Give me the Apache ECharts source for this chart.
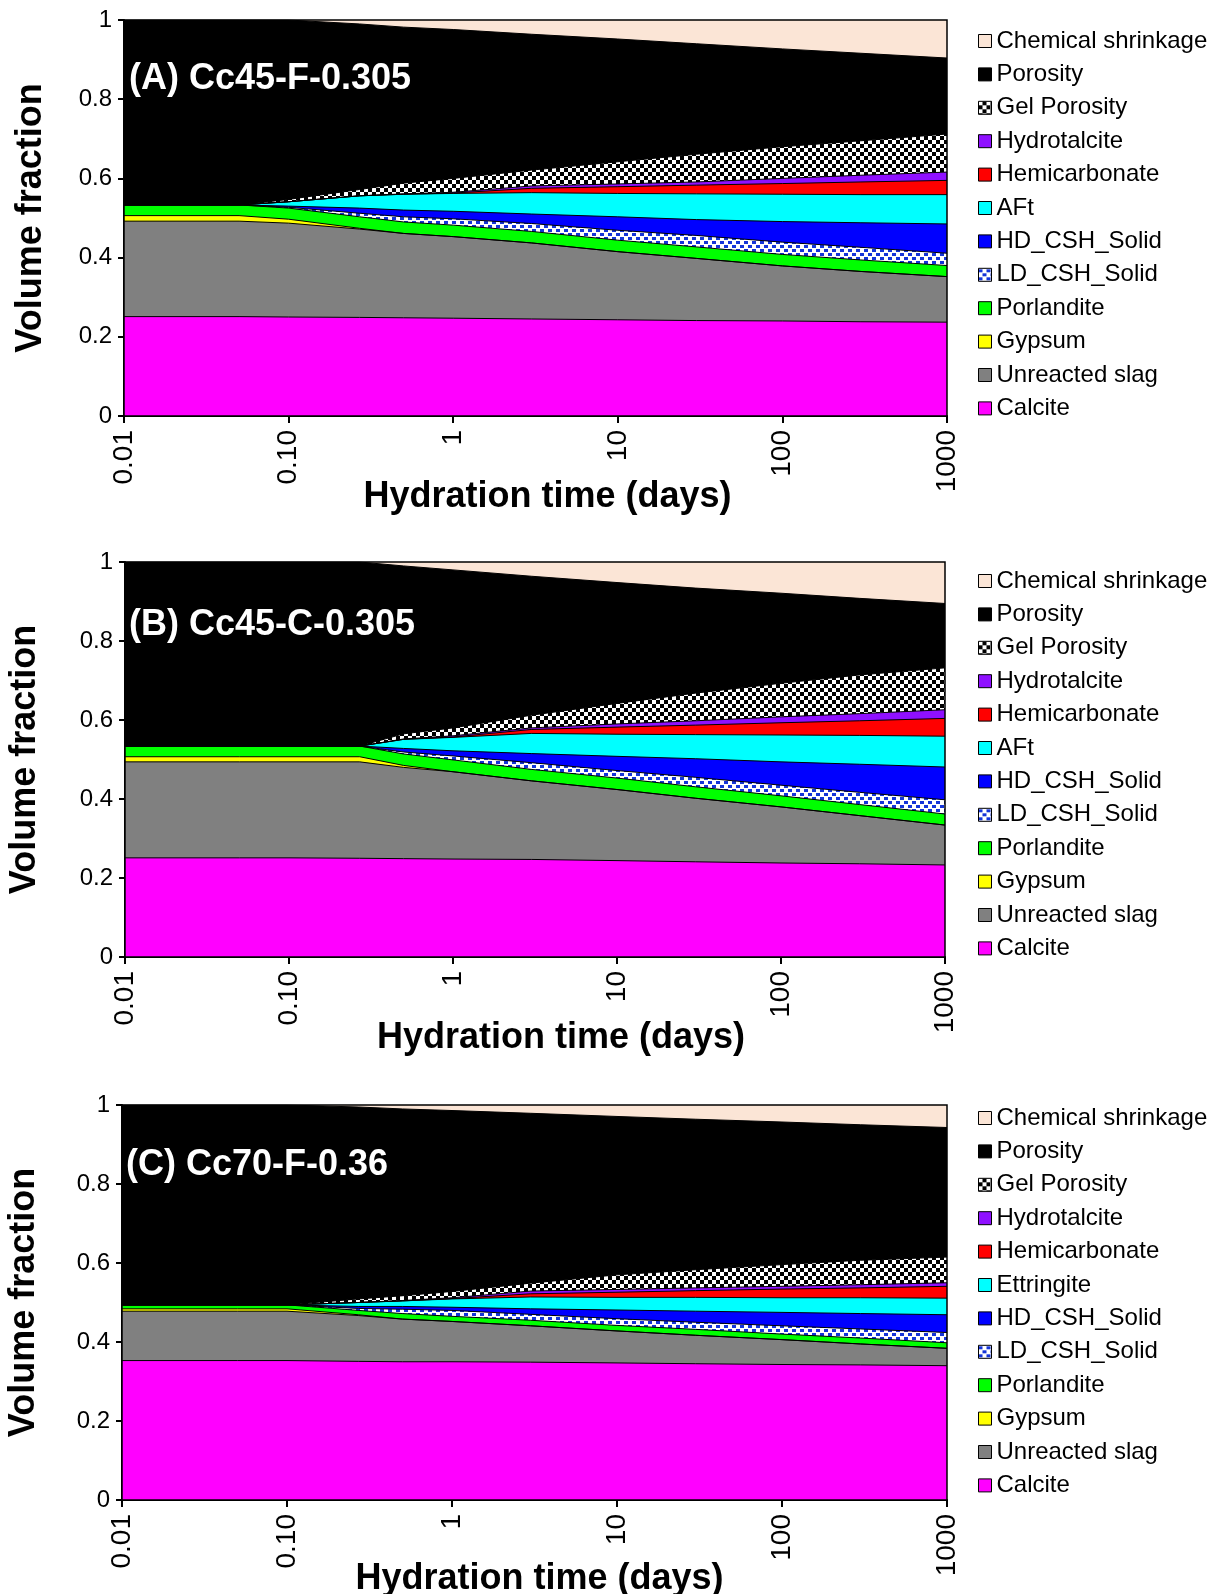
<!DOCTYPE html>
<html>
<head>
<meta charset="utf-8">
<script src="https://cdn.jsdelivr.net/npm/echarts@6/dist/echarts.min.js"></script>
<style>
  html, body { margin: 0; padding: 0; background: #fff; }
  #chart { width: 1219px; height: 1594px; }
</style>
</head>
<body>
<div id="chart"></div>
<script>
// hydration time (days), shared by all three panels
const times = [0.01, 0.05, 0.1, 0.27, 0.5, 1, 3, 10, 30, 100, 300, 1000]
const xTickLabels = ['0.01', '0.10', '1', '10', '100', '1000']
const yTickLabels = ['0', '0.2', '0.4', '0.6', '0.8', '1']

// (A) Cc45-F-0.305  volume fractions, bottom layer first
const calciteA   = [0.251, 0.251, 0.250, 0.249, 0.248, 0.247, 0.245, 0.243, 0.241, 0.240, 0.238, 0.237]
const slagA      = [0.241, 0.241, 0.237, 0.223, 0.213, 0.206, 0.192, 0.172, 0.157, 0.139, 0.127, 0.115]
const gypsumA    = [0.014, 0.014, 0.010, 0.002, 0, 0, 0, 0, 0, 0, 0, 0]
const portlA     = [0.027, 0.027, 0.028, 0.029, 0.029, 0.029, 0.029, 0.029, 0.029, 0.029, 0.029, 0.028]
const ldCshA     = [0, 0, 0.002, 0.009, 0.013, 0.016, 0.020, 0.025, 0.029, 0.031, 0.032, 0.031]
const hdCshA     = [0, 0, 0.003, 0.013, 0.017, 0.019, 0.024, 0.034, 0.040, 0.052, 0.062, 0.074]
const aftA       = [0, 0, 0.011, 0.031, 0.040, 0.045, 0.054, 0.059, 0.065, 0.069, 0.071, 0.074]
const hemiA      = [0, 0, 0, 0, 0, 0.001, 0.011, 0.017, 0.022, 0.027, 0.032, 0.036]
const hydroA     = [0, 0, 0, 0, 0.001, 0.002, 0.006, 0.007, 0.008, 0.013, 0.017, 0.021]
const gelA       = [0, 0, 0.006, 0.016, 0.027, 0.035, 0.040, 0.056, 0.070, 0.080, 0.087, 0.096]
const porosityA  = [0.467, 0.467, 0.453, 0.418, 0.394, 0.376, 0.343, 0.310, 0.279, 0.247, 0.221, 0.192]
const shrinkA    = [0, 0, 0, 0.010, 0.018, 0.024, 0.036, 0.048, 0.060, 0.073, 0.084, 0.096]

// (B) Cc45-C-0.305
const calciteB   = [0.251, 0.251, 0.251, 0.250, 0.249, 0.248, 0.247, 0.244, 0.241, 0.238, 0.236, 0.233]
const slagB      = [0.243, 0.243, 0.243, 0.244, 0.231, 0.221, 0.199, 0.180, 0.161, 0.142, 0.122, 0.101]
const gypsumB    = [0.013, 0.013, 0.013, 0.013, 0.005, 0, 0, 0, 0, 0, 0, 0]
const portlB     = [0.027, 0.027, 0.027, 0.027, 0.029, 0.030, 0.029, 0.029, 0.029, 0.028, 0.028, 0.028]
const ldCshB     = [0, 0, 0, 0, 0.005, 0.010, 0.017, 0.019, 0.024, 0.027, 0.031, 0.036]
const hdCshB     = [0, 0, 0, 0, 0.009, 0.013, 0.023, 0.036, 0.047, 0.059, 0.071, 0.083]
const aftB       = [0, 0, 0, 0, 0.023, 0.034, 0.051, 0.056, 0.061, 0.068, 0.073, 0.078]
const hemiB      = [0, 0, 0, 0, 0, 0.001, 0.010, 0.018, 0.024, 0.031, 0.037, 0.045]
const hydroB     = [0, 0, 0, 0, 0.001, 0.003, 0.004, 0.008, 0.011, 0.015, 0.018, 0.022]
const gelB       = [0, 0, 0, 0, 0.013, 0.020, 0.032, 0.052, 0.070, 0.085, 0.098, 0.106]
const porosityB  = [0.466, 0.466, 0.466, 0.466, 0.425, 0.400, 0.352, 0.306, 0.266, 0.228, 0.194, 0.163]
const shrinkB    = [0, 0, 0, 0, 0.010, 0.020, 0.036, 0.052, 0.066, 0.079, 0.092, 0.105]

// (C) Cc70-F-0.36
const calciteC   = [0.353, 0.353, 0.353, 0.351, 0.350, 0.350, 0.349, 0.347, 0.345, 0.343, 0.342, 0.340]
const slagC      = [0.125, 0.125, 0.125, 0.116, 0.108, 0.102, 0.092, 0.081, 0.072, 0.063, 0.053, 0.044]
const gypsumC    = [0.006, 0.006, 0.006, 0.002, 0, 0, 0, 0, 0, 0, 0, 0]
const portlC     = [0.010, 0.010, 0.010, 0.011, 0.014, 0.013, 0.014, 0.014, 0.015, 0.014, 0.015, 0.014]
const ldCshC     = [0, 0, 0, 0.005, 0.011, 0.015, 0.015, 0.017, 0.018, 0.021, 0.023, 0.026]
const hdCshC     = [0, 0, 0, 0.005, 0.007, 0.008, 0.014, 0.022, 0.028, 0.034, 0.039, 0.045]
const ettrC      = [0, 0, 0, 0.010, 0.014, 0.021, 0.030, 0.032, 0.035, 0.037, 0.040, 0.042]
const hemiC      = [0, 0, 0, 0, 0, 0.001, 0.008, 0.013, 0.017, 0.022, 0.025, 0.030]
const hydroC     = [0, 0, 0, 0, 0.001, 0.002, 0.007, 0.007, 0.007, 0.007, 0.008, 0.009]
const gelC       = [0, 0, 0, 0.009, 0.012, 0.016, 0.020, 0.037, 0.046, 0.055, 0.062, 0.065]
const porosityC  = [0.506, 0.506, 0.506, 0.486, 0.473, 0.458, 0.430, 0.401, 0.381, 0.361, 0.343, 0.328]
const shrinkC    = [0, 0, 0, 0.005, 0.010, 0.014, 0.021, 0.029, 0.036, 0.043, 0.050, 0.057]

const FONT = '"Liberation Sans", Arial, sans-serif'

// small tiles for the hatched layers
function makeTile(bg, fg, size, cells) {
  const c = document.createElement('canvas')
  c.width = size
  c.height = size
  const ctx = c.getContext('2d')
  ctx.fillStyle = bg
  ctx.fillRect(0, 0, size, size)
  ctx.fillStyle = fg
  cells.forEach(r => ctx.fillRect(r[0], r[1], r[2], r[3]))
  return { image: c, repeat: 'repeat' }
}
const gelFill = makeTile('#000', '#fff', 8, [[0, 0, 4, 4], [4, 4, 4, 4]])
const ldFill = makeTile('#fff', '#1434d8', 8, [[0, 1, 4, 3], [4, 5, 4, 3]])

const colors = {
  'Chemical shrinkage': '#fbe5d6',
  'Porosity': '#000000',
  'Gel Porosity': gelFill,
  'Hydrotalcite': '#8f10ff',
  'Hemicarbonate': '#ff0000',
  'AFt': '#00ffff',
  'Ettringite': '#00ffff',
  'HD_CSH_Solid': '#0000ff',
  'LD_CSH_Solid': ldFill,
  'Porlandite': '#00ff00',
  'Gypsum': '#ffff00',
  'Unreacted slag': '#808080',
  'Calcite': '#ff00ff'
}

const panels = [
  {
    label: '(A) Cc45-F-0.305',
    grid: { left: 124, top: 20, width: 823, height: 396 },
    labelPos: { left: 129, top: 61 },
    legendTop: 24, xNameGap: 63, xNamePad: 24, yNameGap: 75,
    layers: [
      ['Calcite', calciteA], ['Unreacted slag', slagA], ['Gypsum', gypsumA], ['Porlandite', portlA],
      ['LD_CSH_Solid', ldCshA], ['HD_CSH_Solid', hdCshA], ['AFt', aftA], ['Hemicarbonate', hemiA],
      ['Hydrotalcite', hydroA], ['Gel Porosity', gelA], ['Porosity', porosityA], ['Chemical shrinkage', shrinkA]
    ]
  },
  {
    label: '(B) Cc45-C-0.305',
    grid: { left: 125, top: 562, width: 820, height: 395 },
    labelPos: { left: 129, top: 607 },
    legendTop: 564, xNameGap: 63, xNamePad: 52, yNameGap: 82,
    layers: [
      ['Calcite', calciteB], ['Unreacted slag', slagB], ['Gypsum', gypsumB], ['Porlandite', portlB],
      ['LD_CSH_Solid', ldCshB], ['HD_CSH_Solid', hdCshB], ['AFt', aftB], ['Hemicarbonate', hemiB],
      ['Hydrotalcite', hydroB], ['Gel Porosity', gelB], ['Porosity', porosityB], ['Chemical shrinkage', shrinkB]
    ]
  },
  {
    label: '(C) Cc70-F-0.36',
    grid: { left: 122, top: 1105, width: 825, height: 395 },
    labelPos: { left: 126, top: 1147 },
    legendTop: 1101, xNameGap: 61, xNamePad: 10, yNameGap: 80,
    layers: [
      ['Calcite', calciteC], ['Unreacted slag', slagC], ['Gypsum', gypsumC], ['Porlandite', portlC],
      ['LD_CSH_Solid', ldCshC], ['HD_CSH_Solid', hdCshC], ['Ettringite', ettrC], ['Hemicarbonate', hemiC],
      ['Hydrotalcite', hydroC], ['Gel Porosity', gelC], ['Porosity', porosityC], ['Chemical shrinkage', shrinkC]
    ]
  }
]

const chart = echarts.init(document.getElementById('chart'), null, { renderer: 'canvas' })

const grids = [], xAxes = [], yAxes = [], series = [], legends = [], titles = []

panels.forEach((p, g) => {
  grids.push(Object.assign({
    show: true, borderColor: '#000', borderWidth: 1.5, backgroundColor: 'transparent', z: 5,
    containLabel: false, outerBoundsMode: 'none'
  }, p.grid))

  xAxes.push({
    type: 'log', logBase: 10, min: 0.01, max: 1000, gridIndex: g,
    axisLine: { show: true, lineStyle: { color: '#000', width: 2 } },
    axisTick: { show: true, length: 7, lineStyle: { color: '#000', width: 2 } },
    minorTick: { show: false },
    splitLine: { show: false },
    axisLabel: {
      rotate: 90, fontSize: 28, color: '#000', margin: 14, fontFamily: FONT,
      showMinLabel: true, showMaxLabel: true,
      formatter: v => xTickLabels[Math.round(Math.log10(v)) + 2]
    },
    name: 'Hydration time (days)', nameLocation: 'middle', nameGap: p.xNameGap,
    nameMoveOverlap: false,
    nameTextStyle: { fontSize: 36, fontWeight: 'bold', color: '#000', fontFamily: FONT, padding: [0, 0, 0, p.xNamePad] }
  })

  yAxes.push({
    type: 'value', min: 0, max: 1, interval: 0.2, gridIndex: g,
    axisLine: { show: true, lineStyle: { color: '#000', width: 2 } },
    axisTick: { show: true, length: 6, lineStyle: { color: '#000', width: 2 } },
    splitLine: { show: false },
    axisLabel: {
      fontSize: 24, color: '#000', margin: 12, fontFamily: FONT,
      formatter: v => yTickLabels[Math.round(v / 0.2)]
    },
    name: 'Volume fraction', nameLocation: 'middle', nameGap: p.yNameGap,
    nameMoveOverlap: false,
    nameTextStyle: { fontSize: 36, fontWeight: 'bold', color: '#000', fontFamily: FONT }
  })

  // running totals so each layer fills from the axis and the next one down covers it
  let running = times.map(() => 0)
  const tops = p.layers.map(([name, vals]) => {
    running = running.map((s, k) => s + vals[k])
    return { name, top: running.slice() }
  })
  tops.slice().reverse().forEach(l => {
    const fill = colors[l.name]
    series.push({
      type: 'line', name: l.name, xAxisIndex: g, yAxisIndex: g,
      data: times.map((t, k) => [t, l.top[k]]),
      symbol: 'none', silent: true,
      lineStyle: { color: '#000', width: l.name === 'Chemical shrinkage' ? 0 : 1 },
      itemStyle: { color: fill },
      areaStyle: { color: fill, opacity: 1 }
    })
  })

  legends.push({
    orient: 'vertical', left: 973, top: p.legendTop,
    icon: 'rect', itemWidth: 13, itemHeight: 13, itemGap: 9.4,
    selectedMode: false,
    textStyle: { fontSize: 24, color: '#000', fontFamily: FONT, lineHeight: 24 },
    itemStyle: { borderColor: '#000', borderWidth: 1 },
    data: p.layers.slice().reverse().map(([name]) => ({
      name, itemStyle: { color: colors[name], borderColor: '#000', borderWidth: 1 }
    }))
  })

  titles.push({
    text: p.label, left: p.labelPos.left, top: p.labelPos.top, padding: 0,
    textStyle: { color: '#fff', fontSize: 36, fontWeight: 'bold', fontFamily: FONT }
  })
})

chart.setOption({
  animation: false,
  textStyle: { fontFamily: FONT },
  title: titles,
  grid: grids,
  xAxis: xAxes,
  yAxis: yAxes,
  legend: legends,
  series: series
})
</script>
</body>
</html>
